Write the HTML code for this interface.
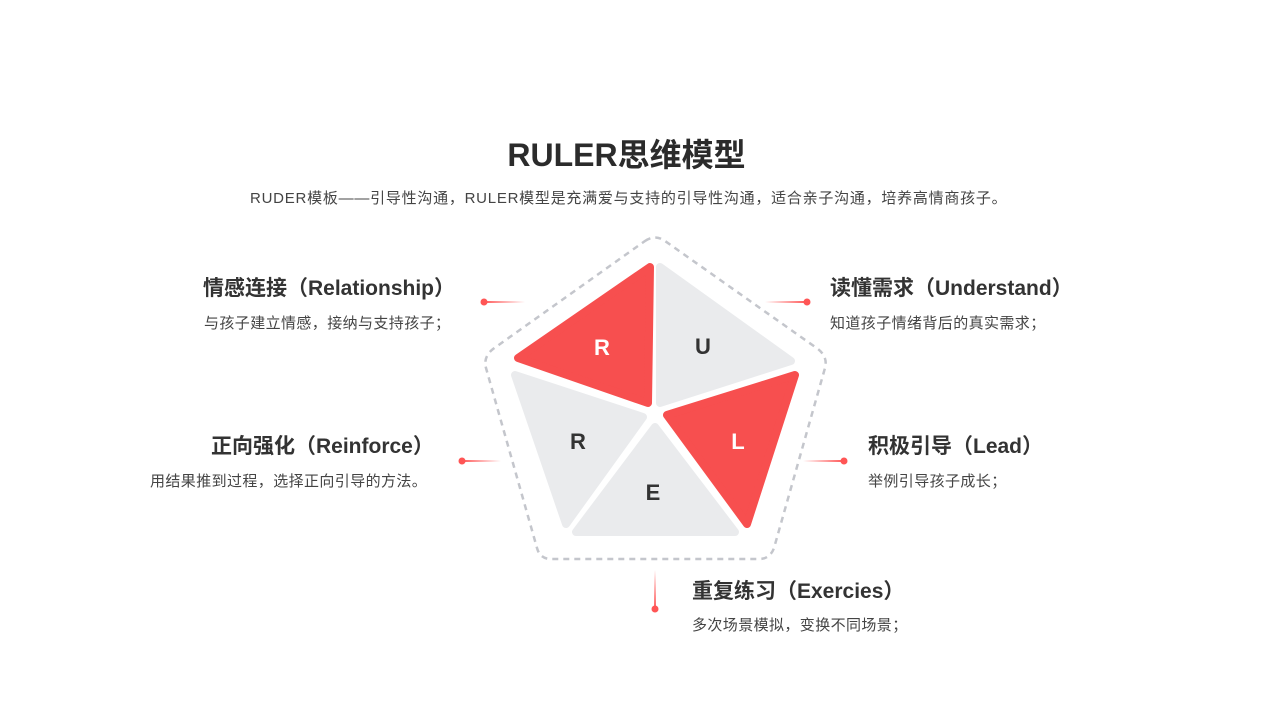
<!DOCTYPE html>
<html><head><meta charset="utf-8"><style>
body{margin:0;width:1280px;height:720px;background:#fff;position:relative;overflow:hidden;font-family:"Liberation Sans","Noto Sans CJK SC",sans-serif;color:#333}
.t{position:absolute;white-space:nowrap}
.h{font-size:21px;font-weight:bold;color:#333}
.d{font-size:15px;color:#444;letter-spacing:0.4px}
</style></head><body>
<div class="t" style="left:0;width:1253px;text-align:center;top:130px;font-size:32px;font-weight:bold;color:#2b2b2b">RULER思维模型</div>
<div class="t" style="left:250px;top:187px;font-size:15px;letter-spacing:0.75px;color:#444">RUDER模板——引导性沟通，RULER模型是充满爱与支持的引导性沟通，适合亲子沟通，培养高情商孩子。</div>

<div class="t h" style="left:203px;top:272px">情感连接（Relationship）</div>
<div class="t d" style="left:204px;top:312px">与孩子建立情感，接纳与支持孩子；</div>
<div class="t h" style="left:211px;top:430px">正向强化（Reinforce）</div>
<div class="t d" style="left:150px;top:470px">用结果推到过程，选择正向引导的方法。</div>
<div class="t h" style="left:830px;top:272px">读懂需求（Understand）</div>
<div class="t d" style="left:830px;top:312px">知道孩子情绪背后的真实需求；</div>
<div class="t h" style="left:868px;top:430px">积极引导（Lead）</div>
<div class="t d" style="left:868px;top:470px">举例引导孩子成长；</div>
<div class="t h" style="left:692px;top:575px">重复练习（Exercies）</div>
<div class="t d" style="left:692px;top:614px">多次场景模拟，变换不同场景；</div>

<svg width="1280" height="720" style="position:absolute;left:0;top:0">
<defs>
<linearGradient id="gl" x1="0" x2="1"><stop offset="0" stop-color="#f55" stop-opacity="1"/><stop offset="1" stop-color="#f55" stop-opacity="0"/></linearGradient>
<linearGradient id="gr" x1="1" x2="0"><stop offset="0" stop-color="#f55" stop-opacity="1"/><stop offset="1" stop-color="#f55" stop-opacity="0"/></linearGradient>
<linearGradient id="gv" x1="0" y1="1" x2="0" y2="0"><stop offset="0" stop-color="#f55" stop-opacity="1"/><stop offset="1" stop-color="#f55" stop-opacity="0"/></linearGradient>
</defs>
<path d="M645,241 Q655,234 665,241 L818,349 Q828,357 825,368 L774,548 Q770,559 759,559 L551,559 Q540,559 537,548 L486,368 Q483,357 493,349 Z" fill="none" stroke="#c4c6cc" stroke-width="2.5" stroke-dasharray="6,5"/>
<g stroke-linejoin="round" stroke-width="8">
<polygon points="650,267 518,358 648,403" fill="#f74f4f" stroke="#f74f4f"/>
<polygon points="660,267 791,361 660,403" fill="#eaebed" stroke="#eaebed"/>
<polygon points="795,375 667,415 747,524" fill="#f74f4f" stroke="#f74f4f"/>
<polygon points="655,427 576,532 735,532" fill="#eaebed" stroke="#eaebed"/>
<polygon points="515,375 643,417 566,524" fill="#eaebed" stroke="#eaebed"/>
</g>
<g font-family="Liberation Sans,sans-serif" font-weight="bold" font-size="22" text-anchor="middle">
<text x="602" y="355" fill="#fff">R</text>
<text x="703" y="354" fill="#333">U</text>
<text x="738" y="449" fill="#fff">L</text>
<text x="578" y="449" fill="#333">R</text>
<text x="653" y="500" fill="#333">E</text>
</g>
<rect x="483" y="301" width="42" height="2" fill="url(#gl)"/><circle cx="484" cy="302" r="3.5" fill="#f55"/>
<rect x="461" y="460" width="40" height="2" fill="url(#gl)"/><circle cx="462" cy="461" r="3.5" fill="#f55"/>
<rect x="765" y="301" width="42" height="2" fill="url(#gr)"/><circle cx="807" cy="302" r="3.5" fill="#f55"/>
<rect x="803" y="460" width="41" height="2" fill="url(#gr)"/><circle cx="844" cy="461" r="3.5" fill="#f55"/>
<rect x="654" y="570" width="2" height="40" fill="url(#gv)"/><circle cx="655" cy="609" r="3.5" fill="#f55"/>
</svg>
</body></html>
